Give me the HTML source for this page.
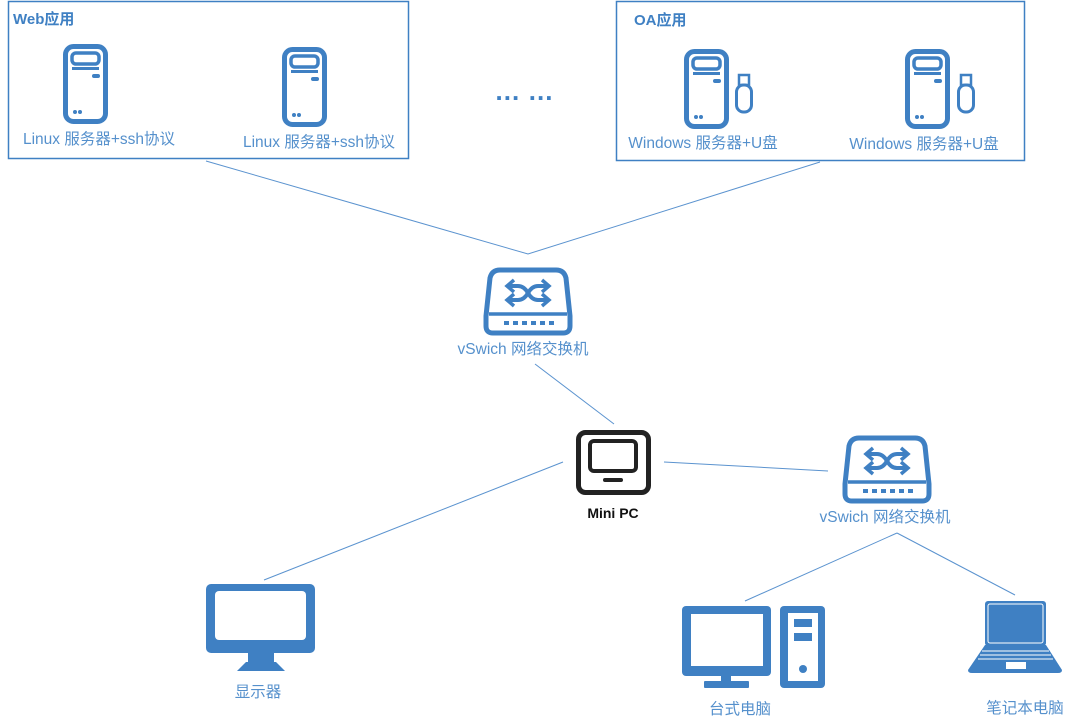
<!DOCTYPE html>
<html><head><meta charset="utf-8"><style>
html,body{margin:0;padding:0;background:#fff;width:1080px;height:727px;overflow:hidden}
svg text{font-family:"Liberation Sans","Noto Sans CJK SC",sans-serif}
</style></head><body>
<svg width="1080" height="727" viewBox="0 0 1080 727" xmlns="http://www.w3.org/2000/svg">
<defs>
<g id="srv">
<rect x="2.5" y="2.5" width="40" height="75" rx="8" fill="none" stroke="#3f80c3" stroke-width="5"/>
<rect x="9" y="9" width="27" height="11" rx="4" fill="none" stroke="#3f80c3" stroke-width="3.5"/>
<rect x="9" y="23" width="27" height="3" fill="#3f80c3"/>
<rect x="29" y="30" width="8" height="4" rx="2" fill="#3f80c3"/>
<circle cx="12" cy="68" r="2" fill="#3f80c3"/><circle cx="17" cy="68" r="2" fill="#3f80c3"/>
</g>
<g id="usb">
<rect x="4" y="0" width="10" height="10" fill="none" stroke="#3f80c3" stroke-width="2.5"/>
<rect x="1.5" y="10" width="15" height="27" rx="7" fill="none" stroke="#3f80c3" stroke-width="3"/>
</g>
<g id="sw">
<path d="M14 4 H70 Q78 4 80 12 L84 50 V60 Q84 67 77 67 H7 Q0 67 0 60 V50 L4 12 Q6 4 14 4Z" fill="none" stroke="#3f80c3" stroke-width="5"/>
<line x1="3" y1="48" x2="81" y2="48" stroke="#3f80c3" stroke-width="3.5"/>
<g fill="#3f80c3"><rect x="18" y="55" width="5" height="4"/><rect x="27" y="55" width="5" height="4"/><rect x="36" y="55" width="5" height="4"/><rect x="45" y="55" width="5" height="4"/><rect x="54" y="55" width="5" height="4"/><rect x="63" y="55" width="5" height="4"/></g>
<path d="M22 20 H32 Q38 20 42 27 Q46 34 52 34 H62 M22 34 H32 Q38 34 42 27 Q46 20 52 20 H62" fill="none" stroke="#3f80c3" stroke-width="4"/>
<path d="M28 14 L21 20 L28 26 M56 28 L63 34 L56 40 M56 14 L63 20 L56 26 M28 28 L21 34 L28 40" fill="none" stroke="#3f80c3" stroke-width="3.5"/>
</g>
</defs>
<g fill="none" stroke="#3f80c3" stroke-width="1.5">
<rect x="8.5" y="1.5" width="400" height="157"/>
<rect x="616.5" y="1.5" width="408" height="159"/>
</g>
<g stroke="#5b93cf" stroke-width="1" fill="none">
<polyline points="206,161 528,254 820,162"/>
<line x1="535" y1="364" x2="614" y2="424"/>
<line x1="563" y1="462" x2="264" y2="580"/>
<line x1="664" y1="462" x2="828" y2="471"/>
<line x1="897" y1="533" x2="745" y2="601"/>
<line x1="897" y1="533" x2="1015" y2="595"/>
</g>
<text x="13" y="24" font-size="15" font-weight="bold" fill="#3f80c3">Web应用</text>
<text x="634" y="25" font-size="15" font-weight="bold" fill="#3f80c3">OA应用</text>
<use href="#srv" x="63" y="44"/>
<use href="#srv" x="282" y="47"/>
<use href="#srv" x="684" y="49"/>
<use href="#srv" x="905" y="49"/>
<use href="#usb" x="735" y="75"/>
<use href="#usb" x="957" y="75"/>
<g font-size="15.5" fill="#5590cc" text-anchor="middle">
<text x="99" y="144">Linux 服务器+ssh协议</text>
<text x="319" y="147">Linux 服务器+ssh协议</text>
<text x="703" y="148">Windows 服务器+U盘</text>
<text x="924" y="149">Windows 服务器+U盘</text>
<text x="523" y="354">vSwich 网络交换机</text>
<text x="885" y="522">vSwich 网络交换机</text>
<text x="258" y="697">显示器</text>
<text x="740" y="714">台式电脑</text>
<text x="1025" y="713">笔记本电脑</text>
</g>
<text x="524" y="100" font-size="26" font-weight="bold" fill="#3f80c3" text-anchor="middle">… …</text>
<use href="#sw" x="486" y="266"/>
<use href="#sw" x="845" y="434"/>
<rect x="578.5" y="432.5" width="70" height="60" rx="7" fill="none" stroke="#222" stroke-width="5"/>
<rect x="590" y="441" width="46" height="30" rx="4" fill="none" stroke="#222" stroke-width="4"/>
<rect x="603" y="478" width="20" height="4" rx="2" fill="#222"/>
<text x="613" y="518" font-size="14" font-weight="bold" fill="#111" text-anchor="middle">Mini PC</text>
<rect x="206" y="584" width="109" height="69" rx="5" fill="#3f80c3"/>
<rect x="215" y="591" width="91" height="49" rx="4" fill="#fff"/>
<rect x="248" y="653" width="26" height="9" fill="#3f80c3"/>
<path d="M246 662 H276 L285 671 H237Z" fill="#3f80c3"/>
<rect x="682" y="606" width="89" height="70" rx="4" fill="#3f80c3"/>
<rect x="691" y="614" width="72" height="52" fill="#fff"/>
<rect x="721" y="676" width="10" height="7" fill="#3f80c3"/>
<rect x="704" y="681" width="45" height="7" rx="1" fill="#3f80c3"/>
<rect x="780" y="606" width="45" height="82" rx="4" fill="#3f80c3"/>
<rect x="788" y="613" width="30" height="68" fill="#fff"/>
<rect x="794" y="619" width="18" height="8" fill="#3f80c3"/>
<rect x="794" y="633" width="18" height="8" fill="#3f80c3"/>
<circle cx="803" cy="669" r="4" fill="#3f80c3"/>
<rect x="985" y="601" width="61" height="45" rx="3" fill="#3f80c3"/>
<rect x="988" y="604" width="55" height="39" rx="2" fill="none" stroke="#fff" stroke-width="1"/>
<path d="M985 645 H1046 L1062 670 Q1062 673 1058 673 H972 Q968 673 968 670Z" fill="#3f80c3"/>
<g stroke="#fff" stroke-width="1"><line x1="982" y1="651" x2="1049" y2="651"/><line x1="980" y1="655" x2="1051" y2="655"/><line x1="978" y1="659" x2="1053" y2="659"/></g>
<rect x="1006" y="662" width="20" height="7" fill="#fff"/>
</svg>
</body></html>
